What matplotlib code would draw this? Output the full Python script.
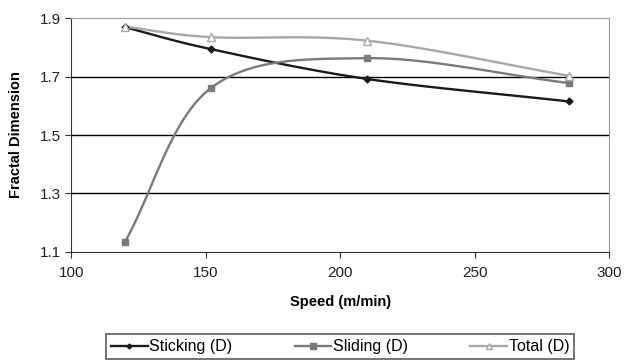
import numpy as np
import matplotlib.pyplot as plt

plt.rcParams['font.family'] = ['Liberation Sans', 'DejaVu Sans']

speed = [120, 152, 210, 285]
sticking = [1.869, 1.794, 1.692, 1.615]
sliding = [1.134, 1.661, 1.763, 1.678]
total = [1.871, 1.835, 1.823, 1.703]


def smooth(x, y, n=40):
    # Catmull-Rom style smoothing like Excel's smoothed line
    x = np.asarray(x, float)
    y = np.asarray(y, float)
    px = np.concatenate([[2 * x[0] - x[1]], x, [2 * x[-1] - x[-2]]])
    py = np.concatenate([[2 * y[0] - y[1]], y, [2 * y[-1] - y[-2]]])
    xs, ys = [], []
    for i in range(1, len(px) - 2):
        t = np.linspace(0, 1, n)
        for arr, out in ((px, xs), (py, ys)):
            p0, p1, p2, p3 = arr[i - 1], arr[i], arr[i + 1], arr[i + 2]
            out.extend(0.5 * ((2 * p1) + (-p0 + p2) * t
                              + (2 * p0 - 5 * p1 + 4 * p2 - p3) * t ** 2
                              + (-p0 + 3 * p1 - 3 * p2 + p3) * t ** 3))
    return xs, ys


fig = plt.figure(figsize=(6.24, 3.63), dpi=100)
ax = fig.add_axes([0.114, 0.306, 0.862, 0.644])

series = [
    (sticking, 'Sticking (D)', '#1a1a1a', 'D', '#1a1a1a', 3.5),
    (sliding, 'Sliding (D)', '#7a7a7a', 's', '#7a7a7a', 5),
    (total, 'Total (D)', '#a8a8a8', '^', 'white', 6),
]
handles = []
for vals, lab, col, mk, fc, ms in series:
    sx, sy = smooth(speed, vals)
    ax.plot(sx, sy, color=col, lw=1.7, zorder=3)
    ax.plot(speed, vals, ls='none', marker=mk, ms=ms, mfc=fc, mec=col, zorder=4)
    h, = ax.plot([], [], color=col, lw=1.7, marker=mk, ms=ms - 1, mfc=fc, mec=col, label=lab)
    handles.append(h)

ax.set_xlim(100, 300)
ax.set_ylim(1.1, 1.9)
ax.set_xticks([100, 150, 200, 250, 300])
ax.set_yticks([1.1, 1.3, 1.5, 1.7, 1.9])
ax.set_yticklabels(['1.1', '1.3', '1.5', '1.7', '1.9'])
for yv in [1.3, 1.5, 1.7]:
    ax.axhline(yv, color='black', lw=1.0, zorder=1)

ax.spines['top'].set_color('#999999')
ax.spines['right'].set_color('#999999')
ax.spines['left'].set_color('#333333')
ax.spines['bottom'].set_color('#333333')
ax.tick_params(direction='out', length=4, labelsize=11, colors='#333333', labelcolor='#222222')
ax.tick_params(axis='x', pad=6)

ax.set_xlabel('Speed (m/min)', fontsize=10.5, fontweight='bold', labelpad=11)
ax.set_ylabel('Fractal Dimension', fontsize=10.5, fontweight='bold', labelpad=12)

leg = fig.legend(handles=handles, ncol=3, loc='center',
                 bbox_to_anchor=(0.545, 0.045), fontsize=11.5, frameon=True,
                 fancybox=False, edgecolor='#333333', handlelength=2.3,
                 handletextpad=0.1, columnspacing=3.9, borderpad=0.3,
                 borderaxespad=0)
leg.get_frame().set_linewidth(1.2)

fig.savefig('out.png', dpi=100)
